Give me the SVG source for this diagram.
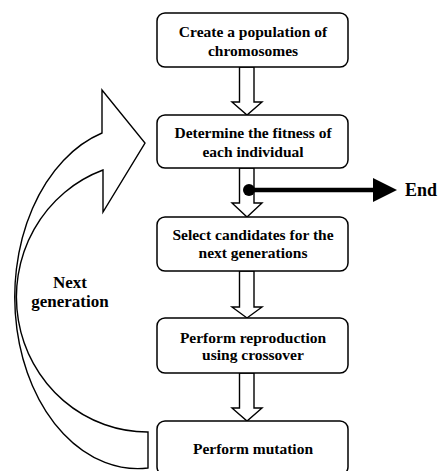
<svg xmlns="http://www.w3.org/2000/svg" width="439" height="471" viewBox="0 0 439 471">
<style>
.box{fill:#fff;stroke:#000;stroke-width:1.5}
.t{font-family:"Liberation Serif","Times New Roman",serif;font-weight:bold;font-size:15.5px;text-anchor:middle;fill:#000}
.big{font-size:17px}
.harrow{fill:#fff;stroke:#000;stroke-width:1.4;stroke-linejoin:miter}
</style>
<rect width="439" height="471" fill="#fff"/>
<g id="connectors">
  <path class="harrow" d="M239.5,67 L254,67 L254,102 L262,102 L247,115 L232,102 L239.5,102 Z"/>
  <path class="harrow" d="M239.5,168 L254,168 L254,203 L262,203 L247,217 L232,203 L239.5,203 Z"/>
  <path class="harrow" d="M239.5,271 L254,271 L254,307 L262,307 L247,318 L232,307 L239.5,307 Z"/>
  <path class="harrow" d="M239.5,373 L254,373 L254,408 L262,408 L247,421 L232,408 L239.5,408 Z"/>
  <g id="end-arrow">
    <circle cx="249" cy="190" r="6" fill="#000"/>
    <line x1="249" y1="190" x2="375" y2="190" stroke="#000" stroke-width="4.5"/>
    <polygon points="373,178 397,190 373,202" fill="#000"/>
  </g>
  <g id="loop-arrow">
    <path class="harrow" stroke-width="1.3" d="M148,468 A123,171.5 0 0 1 102,133 L102,90 L145,143 L103,212 L103,170 A131,135 0 0 0 148,432 Z"/>
  </g>
</g>
<g id="node1">
  <rect class="box" x="157" y="13" width="191" height="54" rx="8"/>
  <text class="t" x="253" y="37">Create a population of</text>
  <text class="t" x="253" y="56">chromosomes</text>
</g>
<g id="node2">
  <rect class="box" x="157" y="115" width="191" height="53" rx="8"/>
  <text class="t" x="253" y="138">Determine the fitness of</text>
  <text class="t" x="253" y="157">each individual</text>
</g>
<g id="node3">
  <rect class="box" x="157" y="217" width="191" height="54" rx="8"/>
  <text class="t" x="253" y="240">Select candidates for the</text>
  <text class="t" x="253" y="258">next generations</text>
</g>
<g id="node4">
  <rect class="box" x="157" y="318" width="191" height="55" rx="8"/>
  <text class="t" x="253" y="343">Perform reproduction</text>
  <text class="t" x="253" y="360">using crossover</text>
</g>
<g id="node5">
  <rect class="box" x="157" y="421" width="191" height="54" rx="8"/>
  <text class="t" x="253" y="454">Perform mutation</text>
</g>
<g id="label-end">
  <text class="t" x="405" y="196" style="text-anchor:start;font-size:18px">End</text>
</g>
<g id="label-next">
  <text class="t big" x="70" y="288">Next</text>
  <text class="t big" x="70" y="307">generation</text>
</g>
</svg>
